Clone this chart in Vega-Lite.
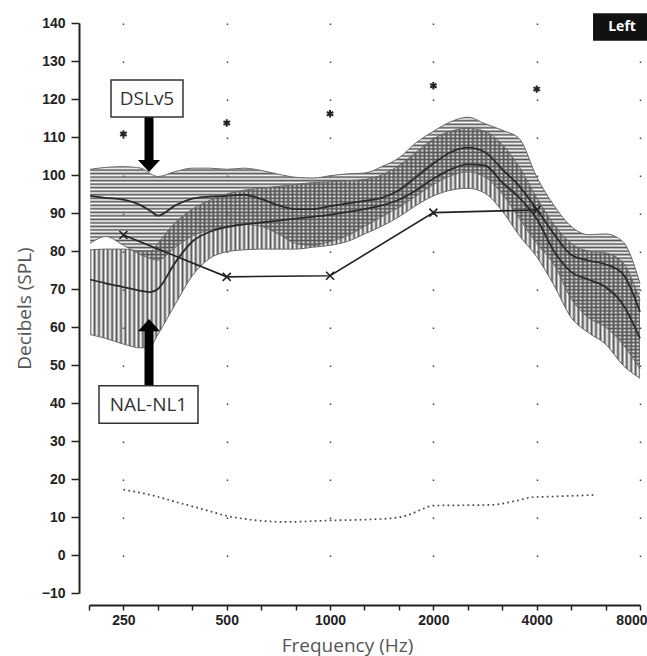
{
"$schema": "https://vega.github.io/schema/vega-lite/v6.json",
"usermeta": {"embedOptions": {"actions": false}},
"width": 551, "height": 570,
"autosize": {"type": "none"},
"padding": {"left": 89, "top": 23, "right": 7, "bottom": 63},
"background": "white",
"config": {"view": {"stroke": null}},
"resolve": {"axis": {"x": "independent", "y": "independent"}},
"datasets": {
"bands": [
{"f":200,"du":101.5,"dm":94.5,"dl":82,"nu":80.3,"nm":72.5,"nl":58},
{"f":222,"du":102,"dm":94,"dl":83.8,"nu":80.5,"nm":71.5,"nl":57},
{"f":250,"du":102.2,"dm":93.5,"dl":81.5,"nu":80.5,"nm":70.5,"nl":55.5},
{"f":281,"du":101.8,"dm":92,"dl":79,"nu":80,"nm":69.5,"nl":54.5},
{"f":300,"du":100.3,"dm":90.5,"dl":78,"nu":80,"nm":69.2,"nl":55},
{"f":315,"du":99.6,"dm":89.3,"dl":77.6,"nu":82,"nm":70,"nl":58},
{"f":354,"du":100.9,"dm":92,"dl":81,"nu":87.5,"nm":77,"nl":66},
{"f":397,"du":101.8,"dm":93.8,"dl":84,"nu":91,"nm":82.5,"nl":73.5},
{"f":445,"du":101.8,"dm":94.3,"dl":85.5,"nu":93.3,"nm":85,"nl":78},
{"f":500,"du":101.5,"dm":94.5,"dl":86.5,"nu":95,"nm":86.3,"nl":79.8},
{"f":561,"du":101.8,"dm":94.8,"dl":87,"nu":96,"nm":87,"nl":80.3},
{"f":630,"du":101.2,"dm":93.7,"dl":86.5,"nu":96.5,"nm":87.5,"nl":80.5},
{"f":707,"du":100.2,"dm":92,"dl":84.5,"nu":97,"nm":88,"nl":80.5},
{"f":794,"du":99.4,"dm":91,"dl":82,"nu":97.5,"nm":88.5,"nl":80.5},
{"f":891,"du":99.2,"dm":91,"dl":81.5,"nu":98,"nm":89,"nl":81},
{"f":1000,"du":99.8,"dm":91.8,"dl":82.5,"nu":98.2,"nm":89.5,"nl":81.5},
{"f":1122,"du":100.3,"dm":92.5,"dl":84,"nu":98.5,"nm":90.3,"nl":82.5},
{"f":1260,"du":100.5,"dm":93.2,"dl":86.5,"nu":98.8,"nm":91,"nl":84.5},
{"f":1414,"du":102.2,"dm":94,"dl":89,"nu":100,"nm":92,"nl":86.5},
{"f":1587,"du":104.5,"dm":96,"dl":91.5,"nu":102.5,"nm":93.5,"nl":89},
{"f":1782,"du":108.5,"dm":99.5,"dl":94.5,"nu":106,"nm":96,"nl":92},
{"f":2000,"du":111.5,"dm":103,"dl":97.5,"nu":109.5,"nm":99,"nl":94.5},
{"f":2245,"du":114,"dm":106,"dl":99.8,"nu":111.5,"nm":101.5,"nl":96},
{"f":2520,"du":115.2,"dm":107.2,"dl":100.8,"nu":112.3,"nm":102.8,"nl":96.5},
{"f":2828,"du":113.5,"dm":106,"dl":99.5,"nu":111.5,"nm":102.5,"nl":95.2},
{"f":3175,"du":111.8,"dm":101.5,"dl":95,"nu":108,"nm":98,"nl":90.5},
{"f":3564,"du":109.5,"dm":97,"dl":88.5,"nu":102,"nm":94,"nl":84},
{"f":4000,"du":99.5,"dm":91,"dl":82,"nu":94,"nm":88.5,"nl":78.5},
{"f":4490,"du":92,"dm":84.5,"dl":76.5,"nu":87,"nm":80,"nl":71},
{"f":5040,"du":86.5,"dm":79,"dl":67.5,"nu":82,"nm":74.5,"nl":62.5},
{"f":5657,"du":84.3,"dm":77.5,"dl":62.5,"nu":80,"nm":72.5,"nl":58.5},
{"f":6350,"du":84.5,"dm":76.5,"dl":60,"nu":79.5,"nm":70.5,"nl":55.5},
{"f":7127,"du":82.5,"dm":74,"dl":55.5,"nu":77,"nm":66,"nl":50},
{"f":8000,"du":71.5,"dm":64,"dl":49,"nu":67,"nm":57,"nl":46.5}
],
"aided": [{"f":250,"v":84.2},{"f":500,"v":73.2},{"f":1000,"v":73.5},{"f":2000,"v":90.1},{"f":4000,"v":90.8}],
"ucl": [{"f":250,"v":110.8},{"f":500,"v":113.7},{"f":1000,"v":116.1},{"f":2000,"v":123.5},{"f":4000,"v":122.6}],
"thresh": [{"f":250,"v":17.2},{"f":300,"v":15.8},{"f":357,"v":13.9},{"f":420,"v":12.2},{"f":500,"v":10.3},{"f":600,"v":9.2},{"f":747,"v":8.7},{"f":1000,"v":9.1},{"f":1250,"v":9.3},{"f":1523,"v":9.7},{"f":1700,"v":10.6},{"f":1870,"v":12.2},{"f":2000,"v":13},{"f":2500,"v":13.1},{"f":2970,"v":13.2},{"f":3500,"v":14.3},{"f":3880,"v":15.2},{"f":4500,"v":15.4},{"f":5880,"v":15.8}],
"one": [{}]
},
"layer": [
{
"data": {"name": "bands"},
"mark": {"type": "area", "interpolate": "monotone", "opacity": 1,
"fill": {"gradient": "linear", "x1": 0, "y1": 0, "x2": 1, "y2": 0, "stops": [
{"offset":0,"color":"#555"},{"offset":0.004,"color":"#5550"},{"offset":0.008,"color":"#555"},{"offset":0.012,"color":"#5550"},{"offset":0.016,"color":"#555"},{"offset":0.02,"color":"#5550"},{"offset":0.024,"color":"#555"},{"offset":0.028,"color":"#5550"},{"offset":0.032,"color":"#555"},{"offset":0.036,"color":"#5550"},{"offset":0.04,"color":"#555"},{"offset":0.044,"color":"#5550"},{"offset":0.048,"color":"#555"},{"offset":0.052,"color":"#5550"},{"offset":0.056,"color":"#555"},{"offset":0.06,"color":"#5550"},{"offset":0.064,"color":"#555"},{"offset":0.068,"color":"#5550"},{"offset":0.072,"color":"#555"},{"offset":0.076,"color":"#5550"},{"offset":0.08,"color":"#555"},{"offset":0.084,"color":"#5550"},{"offset":0.088,"color":"#555"},{"offset":0.092,"color":"#5550"},{"offset":0.096,"color":"#555"},{"offset":0.1,"color":"#5550"},{"offset":0.104,"color":"#555"},{"offset":0.108,"color":"#5550"},{"offset":0.112,"color":"#555"},{"offset":0.116,"color":"#5550"},{"offset":0.12,"color":"#555"},{"offset":0.124,"color":"#5550"},{"offset":0.128,"color":"#555"},{"offset":0.132,"color":"#5550"},{"offset":0.136,"color":"#555"},{"offset":0.14,"color":"#5550"},{"offset":0.144,"color":"#555"},{"offset":0.148,"color":"#5550"},{"offset":0.152,"color":"#555"},{"offset":0.156,"color":"#5550"},{"offset":0.16,"color":"#555"},{"offset":0.164,"color":"#5550"},{"offset":0.168,"color":"#555"},{"offset":0.172,"color":"#5550"},{"offset":0.176,"color":"#555"},{"offset":0.18,"color":"#5550"},{"offset":0.184,"color":"#555"},{"offset":0.188,"color":"#5550"},{"offset":0.192,"color":"#555"},{"offset":0.196,"color":"#5550"},
{"offset":0.2,"color":"#555"},{"offset":0.204,"color":"#5550"},{"offset":0.208,"color":"#555"},{"offset":0.212,"color":"#5550"},{"offset":0.216,"color":"#555"},{"offset":0.22,"color":"#5550"},{"offset":0.224,"color":"#555"},{"offset":0.228,"color":"#5550"},{"offset":0.232,"color":"#555"},{"offset":0.236,"color":"#5550"},{"offset":0.24,"color":"#555"},{"offset":0.244,"color":"#5550"},{"offset":0.248,"color":"#555"},{"offset":0.252,"color":"#5550"},{"offset":0.256,"color":"#555"},{"offset":0.26,"color":"#5550"},{"offset":0.264,"color":"#555"},{"offset":0.268,"color":"#5550"},{"offset":0.272,"color":"#555"},{"offset":0.276,"color":"#5550"},{"offset":0.28,"color":"#555"},{"offset":0.284,"color":"#5550"},{"offset":0.288,"color":"#555"},{"offset":0.292,"color":"#5550"},{"offset":0.296,"color":"#555"},{"offset":0.3,"color":"#5550"},{"offset":0.304,"color":"#555"},{"offset":0.308,"color":"#5550"},{"offset":0.312,"color":"#555"},{"offset":0.316,"color":"#5550"},{"offset":0.32,"color":"#555"},{"offset":0.324,"color":"#5550"},{"offset":0.328,"color":"#555"},{"offset":0.332,"color":"#5550"},{"offset":0.336,"color":"#555"},{"offset":0.34,"color":"#5550"},{"offset":0.344,"color":"#555"},{"offset":0.348,"color":"#5550"},{"offset":0.352,"color":"#555"},{"offset":0.356,"color":"#5550"},{"offset":0.36,"color":"#555"},{"offset":0.364,"color":"#5550"},{"offset":0.368,"color":"#555"},{"offset":0.372,"color":"#5550"},{"offset":0.376,"color":"#555"},{"offset":0.38,"color":"#5550"},{"offset":0.384,"color":"#555"},{"offset":0.388,"color":"#5550"},{"offset":0.392,"color":"#555"},{"offset":0.396,"color":"#5550"},
{"offset":0.4,"color":"#555"},{"offset":0.404,"color":"#5550"},{"offset":0.408,"color":"#555"},{"offset":0.412,"color":"#5550"},{"offset":0.416,"color":"#555"},{"offset":0.42,"color":"#5550"},{"offset":0.424,"color":"#555"},{"offset":0.428,"color":"#5550"},{"offset":0.432,"color":"#555"},{"offset":0.436,"color":"#5550"},{"offset":0.44,"color":"#555"},{"offset":0.444,"color":"#5550"},{"offset":0.448,"color":"#555"},{"offset":0.452,"color":"#5550"},{"offset":0.456,"color":"#555"},{"offset":0.46,"color":"#5550"},{"offset":0.464,"color":"#555"},{"offset":0.468,"color":"#5550"},{"offset":0.472,"color":"#555"},{"offset":0.476,"color":"#5550"},{"offset":0.48,"color":"#555"},{"offset":0.484,"color":"#5550"},{"offset":0.488,"color":"#555"},{"offset":0.492,"color":"#5550"},{"offset":0.496,"color":"#555"},{"offset":0.5,"color":"#5550"},{"offset":0.504,"color":"#555"},{"offset":0.508,"color":"#5550"},{"offset":0.512,"color":"#555"},{"offset":0.516,"color":"#5550"},{"offset":0.52,"color":"#555"},{"offset":0.524,"color":"#5550"},{"offset":0.528,"color":"#555"},{"offset":0.532,"color":"#5550"},{"offset":0.536,"color":"#555"},{"offset":0.54,"color":"#5550"},{"offset":0.544,"color":"#555"},{"offset":0.548,"color":"#5550"},{"offset":0.552,"color":"#555"},{"offset":0.556,"color":"#5550"},{"offset":0.56,"color":"#555"},{"offset":0.564,"color":"#5550"},{"offset":0.568,"color":"#555"},{"offset":0.572,"color":"#5550"},{"offset":0.576,"color":"#555"},{"offset":0.58,"color":"#5550"},{"offset":0.584,"color":"#555"},{"offset":0.588,"color":"#5550"},{"offset":0.592,"color":"#555"},{"offset":0.596,"color":"#5550"},
{"offset":0.6,"color":"#555"},{"offset":0.604,"color":"#5550"},{"offset":0.608,"color":"#555"},{"offset":0.612,"color":"#5550"},{"offset":0.616,"color":"#555"},{"offset":0.62,"color":"#5550"},{"offset":0.624,"color":"#555"},{"offset":0.628,"color":"#5550"},{"offset":0.632,"color":"#555"},{"offset":0.636,"color":"#5550"},{"offset":0.64,"color":"#555"},{"offset":0.644,"color":"#5550"},{"offset":0.648,"color":"#555"},{"offset":0.652,"color":"#5550"},{"offset":0.656,"color":"#555"},{"offset":0.66,"color":"#5550"},{"offset":0.664,"color":"#555"},{"offset":0.668,"color":"#5550"},{"offset":0.672,"color":"#555"},{"offset":0.676,"color":"#5550"},{"offset":0.68,"color":"#555"},{"offset":0.684,"color":"#5550"},{"offset":0.688,"color":"#555"},{"offset":0.692,"color":"#5550"},{"offset":0.696,"color":"#555"},{"offset":0.7,"color":"#5550"},{"offset":0.704,"color":"#555"},{"offset":0.708,"color":"#5550"},{"offset":0.712,"color":"#555"},{"offset":0.716,"color":"#5550"},{"offset":0.72,"color":"#555"},{"offset":0.724,"color":"#5550"},{"offset":0.728,"color":"#555"},{"offset":0.732,"color":"#5550"},{"offset":0.736,"color":"#555"},{"offset":0.74,"color":"#5550"},{"offset":0.744,"color":"#555"},{"offset":0.748,"color":"#5550"},{"offset":0.752,"color":"#555"},{"offset":0.756,"color":"#5550"},{"offset":0.76,"color":"#555"},{"offset":0.764,"color":"#5550"},{"offset":0.768,"color":"#555"},{"offset":0.772,"color":"#5550"},{"offset":0.776,"color":"#555"},{"offset":0.78,"color":"#5550"},{"offset":0.784,"color":"#555"},{"offset":0.788,"color":"#5550"},{"offset":0.792,"color":"#555"},{"offset":0.796,"color":"#5550"},
{"offset":0.8,"color":"#555"},{"offset":0.804,"color":"#5550"},{"offset":0.808,"color":"#555"},{"offset":0.812,"color":"#5550"},{"offset":0.816,"color":"#555"},{"offset":0.82,"color":"#5550"},{"offset":0.824,"color":"#555"},{"offset":0.828,"color":"#5550"},{"offset":0.832,"color":"#555"},{"offset":0.836,"color":"#5550"},{"offset":0.84,"color":"#555"},{"offset":0.844,"color":"#5550"},{"offset":0.848,"color":"#555"},{"offset":0.852,"color":"#5550"},{"offset":0.856,"color":"#555"},{"offset":0.86,"color":"#5550"},{"offset":0.864,"color":"#555"},{"offset":0.868,"color":"#5550"},{"offset":0.872,"color":"#555"},{"offset":0.876,"color":"#5550"},{"offset":0.88,"color":"#555"},{"offset":0.884,"color":"#5550"},{"offset":0.888,"color":"#555"},{"offset":0.892,"color":"#5550"},{"offset":0.896,"color":"#555"},{"offset":0.9,"color":"#5550"},{"offset":0.904,"color":"#555"},{"offset":0.908,"color":"#5550"},{"offset":0.912,"color":"#555"},{"offset":0.916,"color":"#5550"},{"offset":0.92,"color":"#555"},{"offset":0.924,"color":"#5550"},{"offset":0.928,"color":"#555"},{"offset":0.932,"color":"#5550"},{"offset":0.936,"color":"#555"},{"offset":0.94,"color":"#5550"},{"offset":0.944,"color":"#555"},{"offset":0.948,"color":"#5550"},{"offset":0.952,"color":"#555"},{"offset":0.956,"color":"#5550"},{"offset":0.96,"color":"#555"},{"offset":0.964,"color":"#5550"},{"offset":0.968,"color":"#555"},{"offset":0.972,"color":"#5550"},{"offset":0.976,"color":"#555"},{"offset":0.98,"color":"#5550"},{"offset":0.984,"color":"#555"},{"offset":0.988,"color":"#5550"},{"offset":0.992,"color":"#555"},{"offset":0.996,"color":"#5550"},{"offset":1,"color":"#555"}
]}},
"encoding": {
"x": {"field": "f", "type": "quantitative",
"scale": {"type": "log", "domain": [198.43, 8000], "nice": false},
"axis": {"orient": "bottom", "values": [198.43, 250, 314.98, 396.85, 500, 629.96, 793.7, 1000, 1259.92, 1587.4, 2000, 2519.84, 3174.8, 4000, 5039.68, 6349.6, 8000],
"format": "d",
"labelExpr": "indexof([250,500,1000,2000,4000,8000], datum.value) >= 0 ? datum.label : ''",
"labelOverlap": false, "labelFlush": true, "labelFlushOffset": 7,
"offset": 12, "tickSize": 5, "tickWidth": 1.5, "tickColor": "#222",
"domainColor": "#222", "domainWidth": 2,
"labelFont": "Liberation Sans", "labelFontWeight": "bold", "labelFontSize": 14, "labelColor": "#222", "labelPadding": 3,
"grid": true, "gridColor": "#444", "gridWidth": 1.5, "gridDash": [1.5, 36.5],
"gridOpacity": {"condition": {"test": "indexof([250,500,1000,2000,4000,8000], datum.value) >= 0", "value": 1}, "value": 0},
"title": "Frequency (Hz)", "titleFont": "Open Sans", "titleFontSize": 19, "titleFontWeight": "normal", "titleColor": "#555", "titlePadding": 9, "titleX": 258}},
"y": {"field": "nl", "type": "quantitative",
"scale": {"domain": [-10, 140], "nice": false, "zero": false},
"axis": {"orient": "left", "values": [-10,0,10,20,30,40,50,60,70,80,90,100,110,120,130,140],
"offset": 10, "tickSize": 8, "tickWidth": 1.5, "tickColor": "#222",
"domainColor": "#222", "domainWidth": 2, "grid": false,
"labelFont": "Liberation Sans", "labelFontWeight": "bold", "labelFontSize": 14, "labelColor": "#222", "labelPadding": 6,
"title": "Decibels (SPL)", "titleFont": "Open Sans", "titleFontSize": 19, "titleFontWeight": "normal", "titleColor": "#555", "titlePadding": 7}},
"y2": {"field": "nu"}
}
},
{
"data": {"name": "bands"},
"mark": {"type": "area", "interpolate": "monotone", "opacity": 1,
"fill": {"gradient": "linear", "x1": 0, "y1": 0, "x2": 0, "y2": 1, "stops": [
{"offset":0,"color":"#555"},{"offset":0.007,"color":"#5550"},{"offset":0.014,"color":"#555"},{"offset":0.021,"color":"#5550"},{"offset":0.028,"color":"#555"},{"offset":0.035,"color":"#5550"},{"offset":0.042,"color":"#555"},{"offset":0.049,"color":"#5550"},{"offset":0.056,"color":"#555"},{"offset":0.063,"color":"#5550"},{"offset":0.07,"color":"#555"},{"offset":0.077,"color":"#5550"},{"offset":0.084,"color":"#555"},{"offset":0.091,"color":"#5550"},{"offset":0.098,"color":"#555"},{"offset":0.105,"color":"#5550"},{"offset":0.112,"color":"#555"},{"offset":0.119,"color":"#5550"},{"offset":0.126,"color":"#555"},{"offset":0.133,"color":"#5550"},{"offset":0.14,"color":"#555"},{"offset":0.147,"color":"#5550"},{"offset":0.154,"color":"#555"},{"offset":0.161,"color":"#5550"},{"offset":0.168,"color":"#555"},{"offset":0.175,"color":"#5550"},{"offset":0.182,"color":"#555"},{"offset":0.189,"color":"#5550"},{"offset":0.196,"color":"#555"},{"offset":0.203,"color":"#5550"},{"offset":0.21,"color":"#555"},{"offset":0.217,"color":"#5550"},{"offset":0.224,"color":"#555"},{"offset":0.231,"color":"#5550"},{"offset":0.238,"color":"#555"},{"offset":0.245,"color":"#5550"},{"offset":0.252,"color":"#555"},{"offset":0.259,"color":"#5550"},{"offset":0.266,"color":"#555"},{"offset":0.273,"color":"#5550"},{"offset":0.28,"color":"#555"},{"offset":0.287,"color":"#5550"},{"offset":0.294,"color":"#555"},{"offset":0.301,"color":"#5550"},{"offset":0.308,"color":"#555"},{"offset":0.315,"color":"#5550"},{"offset":0.322,"color":"#555"},{"offset":0.329,"color":"#5550"},{"offset":0.336,"color":"#555"},{"offset":0.343,"color":"#5550"},{"offset":0.35,"color":"#555"},{"offset":0.357,"color":"#5550"},{"offset":0.364,"color":"#555"},{"offset":0.371,"color":"#5550"},{"offset":0.378,"color":"#555"},{"offset":0.385,"color":"#5550"},{"offset":0.392,"color":"#555"},{"offset":0.399,"color":"#5550"},{"offset":0.406,"color":"#555"},{"offset":0.413,"color":"#5550"},{"offset":0.42,"color":"#555"},{"offset":0.427,"color":"#5550"},{"offset":0.434,"color":"#555"},{"offset":0.441,"color":"#5550"},{"offset":0.448,"color":"#555"},{"offset":0.455,"color":"#5550"},{"offset":0.462,"color":"#555"},{"offset":0.469,"color":"#5550"},{"offset":0.476,"color":"#555"},{"offset":0.483,"color":"#5550"},{"offset":0.49,"color":"#555"},{"offset":0.497,"color":"#5550"},{"offset":0.504,"color":"#555"},{"offset":0.511,"color":"#5550"},{"offset":0.518,"color":"#555"},{"offset":0.525,"color":"#5550"},{"offset":0.532,"color":"#555"},{"offset":0.539,"color":"#5550"},{"offset":0.546,"color":"#555"},{"offset":0.553,"color":"#5550"},{"offset":0.56,"color":"#555"},{"offset":0.567,"color":"#5550"},{"offset":0.574,"color":"#555"},{"offset":0.581,"color":"#5550"},{"offset":0.588,"color":"#555"},{"offset":0.595,"color":"#5550"},{"offset":0.602,"color":"#555"},{"offset":0.609,"color":"#5550"},{"offset":0.616,"color":"#555"},{"offset":0.623,"color":"#5550"},{"offset":0.63,"color":"#555"},{"offset":0.637,"color":"#5550"},{"offset":0.644,"color":"#555"},{"offset":0.651,"color":"#5550"},{"offset":0.658,"color":"#555"},{"offset":0.665,"color":"#5550"},{"offset":0.672,"color":"#555"},{"offset":0.679,"color":"#5550"},{"offset":0.686,"color":"#555"},{"offset":0.693,"color":"#5550"},{"offset":0.7,"color":"#555"},{"offset":0.707,"color":"#5550"},{"offset":0.714,"color":"#555"},{"offset":0.721,"color":"#5550"},{"offset":0.728,"color":"#555"},{"offset":0.735,"color":"#5550"},{"offset":0.742,"color":"#555"},{"offset":0.749,"color":"#5550"},{"offset":0.756,"color":"#555"},{"offset":0.763,"color":"#5550"},{"offset":0.77,"color":"#555"},{"offset":0.777,"color":"#5550"},{"offset":0.784,"color":"#555"},{"offset":0.791,"color":"#5550"},{"offset":0.798,"color":"#555"},{"offset":0.805,"color":"#5550"},{"offset":0.812,"color":"#555"},{"offset":0.819,"color":"#5550"},{"offset":0.826,"color":"#555"},{"offset":0.833,"color":"#5550"},{"offset":0.84,"color":"#555"},{"offset":0.847,"color":"#5550"},{"offset":0.854,"color":"#555"},{"offset":0.861,"color":"#5550"},{"offset":0.868,"color":"#555"},{"offset":0.875,"color":"#5550"},{"offset":0.882,"color":"#555"},{"offset":0.889,"color":"#5550"},{"offset":0.896,"color":"#555"},{"offset":0.903,"color":"#5550"},{"offset":0.91,"color":"#555"},{"offset":0.917,"color":"#5550"},{"offset":0.924,"color":"#555"},{"offset":0.931,"color":"#5550"},{"offset":0.938,"color":"#555"},{"offset":0.945,"color":"#5550"},{"offset":0.952,"color":"#555"},{"offset":0.959,"color":"#5550"},{"offset":0.966,"color":"#555"},{"offset":0.973,"color":"#5550"},{"offset":0.98,"color":"#555"},{"offset":0.987,"color":"#5550"},{"offset":0.994,"color":"#555"},{"offset":1,"color":"#5550"}
]}},
"encoding": {
"x": {"field": "f", "type": "quantitative", "scale": {"type": "log", "domain": [198.43, 8000], "nice": false}, "axis": null},
"y": {"field": "dl", "type": "quantitative", "scale": {"domain": [-10, 140], "nice": false, "zero": false}, "axis": null},
"y2": {"field": "du"}
}
},
{
"data": {"name": "bands"},
"transform": [{"fold": ["du", "dl", "nu", "nl"], "as": ["k", "v"]}],
"mark": {"type": "line", "interpolate": "monotone", "stroke": "#666", "strokeWidth": 1},
"encoding": {
"x": {"field": "f", "type": "quantitative", "scale": {"type": "log", "domain": [198.43, 8000], "nice": false}, "axis": null},
"y": {"field": "v", "type": "quantitative", "scale": {"domain": [-10, 140], "nice": false, "zero": false}, "axis": null},
"detail": {"field": "k"}
}
},
{
"data": {"name": "bands"},
"transform": [{"fold": ["dm", "nm"], "as": ["k", "v"]}],
"mark": {"type": "line", "interpolate": "monotone", "stroke": "#2a2a2a", "strokeWidth": 1.8},
"encoding": {
"x": {"field": "f", "type": "quantitative", "scale": {"type": "log", "domain": [198.43, 8000], "nice": false}, "axis": null},
"y": {"field": "v", "type": "quantitative", "scale": {"domain": [-10, 140], "nice": false, "zero": false}, "axis": null},
"detail": {"field": "k"}
}
},
{
"data": {"name": "thresh"},
"mark": {"type": "line", "interpolate": "monotone", "stroke": "#444", "strokeWidth": 1.7, "strokeDash": [1.7, 3.3]},
"encoding": {
"x": {"field": "f", "type": "quantitative", "scale": {"type": "log", "domain": [198.43, 8000], "nice": false}, "axis": null},
"y": {"field": "v", "type": "quantitative", "scale": {"domain": [-10, 140], "nice": false, "zero": false}, "axis": null}
}
},
{
"data": {"name": "aided"},
"mark": {"type": "line", "stroke": "#222", "strokeWidth": 1.6},
"encoding": {
"x": {"field": "f", "type": "quantitative", "scale": {"type": "log", "domain": [198.43, 8000], "nice": false}, "axis": null},
"y": {"field": "v", "type": "quantitative", "scale": {"domain": [-10, 140], "nice": false, "zero": false}, "axis": null}
}
},
{
"data": {"name": "aided"},
"mark": {"type": "point", "shape": "M-1,-1L1,1M-1,1L1,-1", "size": 64, "filled": false, "stroke": "#222", "strokeWidth": 1.6, "opacity": 1},
"encoding": {
"x": {"field": "f", "type": "quantitative", "scale": {"type": "log", "domain": [198.43, 8000], "nice": false}, "axis": null},
"y": {"field": "v", "type": "quantitative", "scale": {"domain": [-10, 140], "nice": false, "zero": false}, "axis": null}
}
},
{
"data": {"name": "ucl"},
"mark": {"type": "point", "shape": "M0,-1L0,1M-0.87,-0.5L0.87,0.5M-0.87,0.5L0.87,-0.5", "size": 56, "filled": false, "stroke": "#222", "strokeWidth": 2, "opacity": 1},
"encoding": {
"x": {"field": "f", "type": "quantitative", "scale": {"type": "log", "domain": [198.43, 8000], "nice": false}, "axis": null},
"y": {"field": "v", "type": "quantitative", "scale": {"domain": [-10, 140], "nice": false, "zero": false}, "axis": null}
}
},
{
"data": {"name": "one"},
"mark": {"type": "rule", "stroke": "#000", "strokeWidth": 9},
"encoding": {
"x": {"datum": 296.8, "type": "quantitative", "scale": {"type": "log", "domain": [198.43, 8000], "nice": false}, "axis": null},
"y": {"datum": 115.26, "type": "quantitative", "scale": {"domain": [-10, 140], "nice": false, "zero": false}, "axis": null},
"y2": {"datum": 103.5}
}
},
{
"data": {"name": "one"},
"mark": {"type": "point", "shape": "M-1,-0.55L1,-0.55L0,0.55Z", "size": 484, "filled": true, "fill": "#000", "strokeWidth": 0, "opacity": 1},
"encoding": {
"x": {"datum": 296.8, "type": "quantitative", "scale": {"type": "log", "domain": [198.43, 8000], "nice": false}, "axis": null},
"y": {"datum": 102.37, "type": "quantitative", "scale": {"domain": [-10, 140], "nice": false, "zero": false}, "axis": null}
}
},
{
"data": {"name": "one"},
"mark": {"type": "rule", "stroke": "#000", "strokeWidth": 9},
"encoding": {
"x": {"datum": 296.8, "type": "quantitative", "scale": {"type": "log", "domain": [198.43, 8000], "nice": false}, "axis": null},
"y": {"datum": 44.55, "type": "quantitative", "scale": {"domain": [-10, 140], "nice": false, "zero": false}, "axis": null},
"y2": {"datum": 59.2}
}
},
{
"data": {"name": "one"},
"mark": {"type": "point", "shape": "M-1,0.55L1,0.55L0,-0.55Z", "size": 484, "filled": true, "fill": "#000", "strokeWidth": 0, "opacity": 1},
"encoding": {
"x": {"datum": 296.8, "type": "quantitative", "scale": {"type": "log", "domain": [198.43, 8000], "nice": false}, "axis": null},
"y": {"datum": 60.5, "type": "quantitative", "scale": {"domain": [-10, 140], "nice": false, "zero": false}, "axis": null}
}
},
{
"data": {"name": "one"},
"mark": {"type": "rect", "fill": "#fff", "stroke": "#333", "strokeWidth": 1.5},
"encoding": {
"x": {"datum": 230, "type": "quantitative", "scale": {"type": "log", "domain": [198.43, 8000], "nice": false}, "axis": null},
"x2": {"datum": 372.8},
"y": {"datum": 125, "type": "quantitative", "scale": {"domain": [-10, 140], "nice": false, "zero": false}, "axis": null},
"y2": {"datum": 115.26}
}
},
{
"data": {"name": "one"},
"mark": {"type": "rect", "fill": "#fff", "stroke": "#333", "strokeWidth": 1.5},
"encoding": {
"x": {"datum": 212.2, "type": "quantitative", "scale": {"type": "log", "domain": [198.43, 8000], "nice": false}, "axis": null},
"x2": {"datum": 412.3},
"y": {"datum": 44.55, "type": "quantitative", "scale": {"domain": [-10, 140], "nice": false, "zero": false}, "axis": null},
"y2": {"datum": 34.66}
}
},
{
"data": {"name": "one"},
"mark": {"type": "text", "text": "DSLv5", "font": "Open Sans", "fontSize": 19, "color": "#333", "align": "center", "baseline": "middle"},
"encoding": {
"x": {"datum": 292.8, "type": "quantitative", "scale": {"type": "log", "domain": [198.43, 8000], "nice": false}, "axis": null},
"y": {"datum": 120.1, "type": "quantitative", "scale": {"domain": [-10, 140], "nice": false, "zero": false}, "axis": null}
}
},
{
"data": {"name": "one"},
"mark": {"type": "text", "text": "NAL-NL1", "font": "Open Sans", "fontSize": 19, "color": "#333", "align": "center", "baseline": "middle"},
"encoding": {
"x": {"datum": 295.8, "type": "quantitative", "scale": {"type": "log", "domain": [198.43, 8000], "nice": false}, "axis": null},
"y": {"datum": 39.6, "type": "quantitative", "scale": {"domain": [-10, 140], "nice": false, "zero": false}, "axis": null}
}
},
{
"data": {"name": "one"},
"mark": {"type": "rect", "fill": "#111", "stroke": null},
"encoding": {
"x": {"datum": 5838, "type": "quantitative", "scale": {"type": "log", "domain": [198.43, 8000], "nice": false}, "axis": null},
"x2": {"datum": 8388},
"y": {"datum": 142.55, "type": "quantitative", "scale": {"domain": [-10, 140], "nice": false, "zero": false}, "axis": null},
"y2": {"datum": 135.34}
}
},
{
"data": {"name": "one"},
"mark": {"type": "text", "text": "Left", "font": "Open Sans", "fontSize": 14, "fontWeight": "bold", "color": "#fff", "align": "center", "baseline": "middle"},
"encoding": {
"x": {"datum": 7092, "type": "quantitative", "scale": {"type": "log", "domain": [198.43, 8000], "nice": false}, "axis": null},
"y": {"datum": 139, "type": "quantitative", "scale": {"domain": [-10, 140], "nice": false, "zero": false}, "axis": null}
}
}
]
}
